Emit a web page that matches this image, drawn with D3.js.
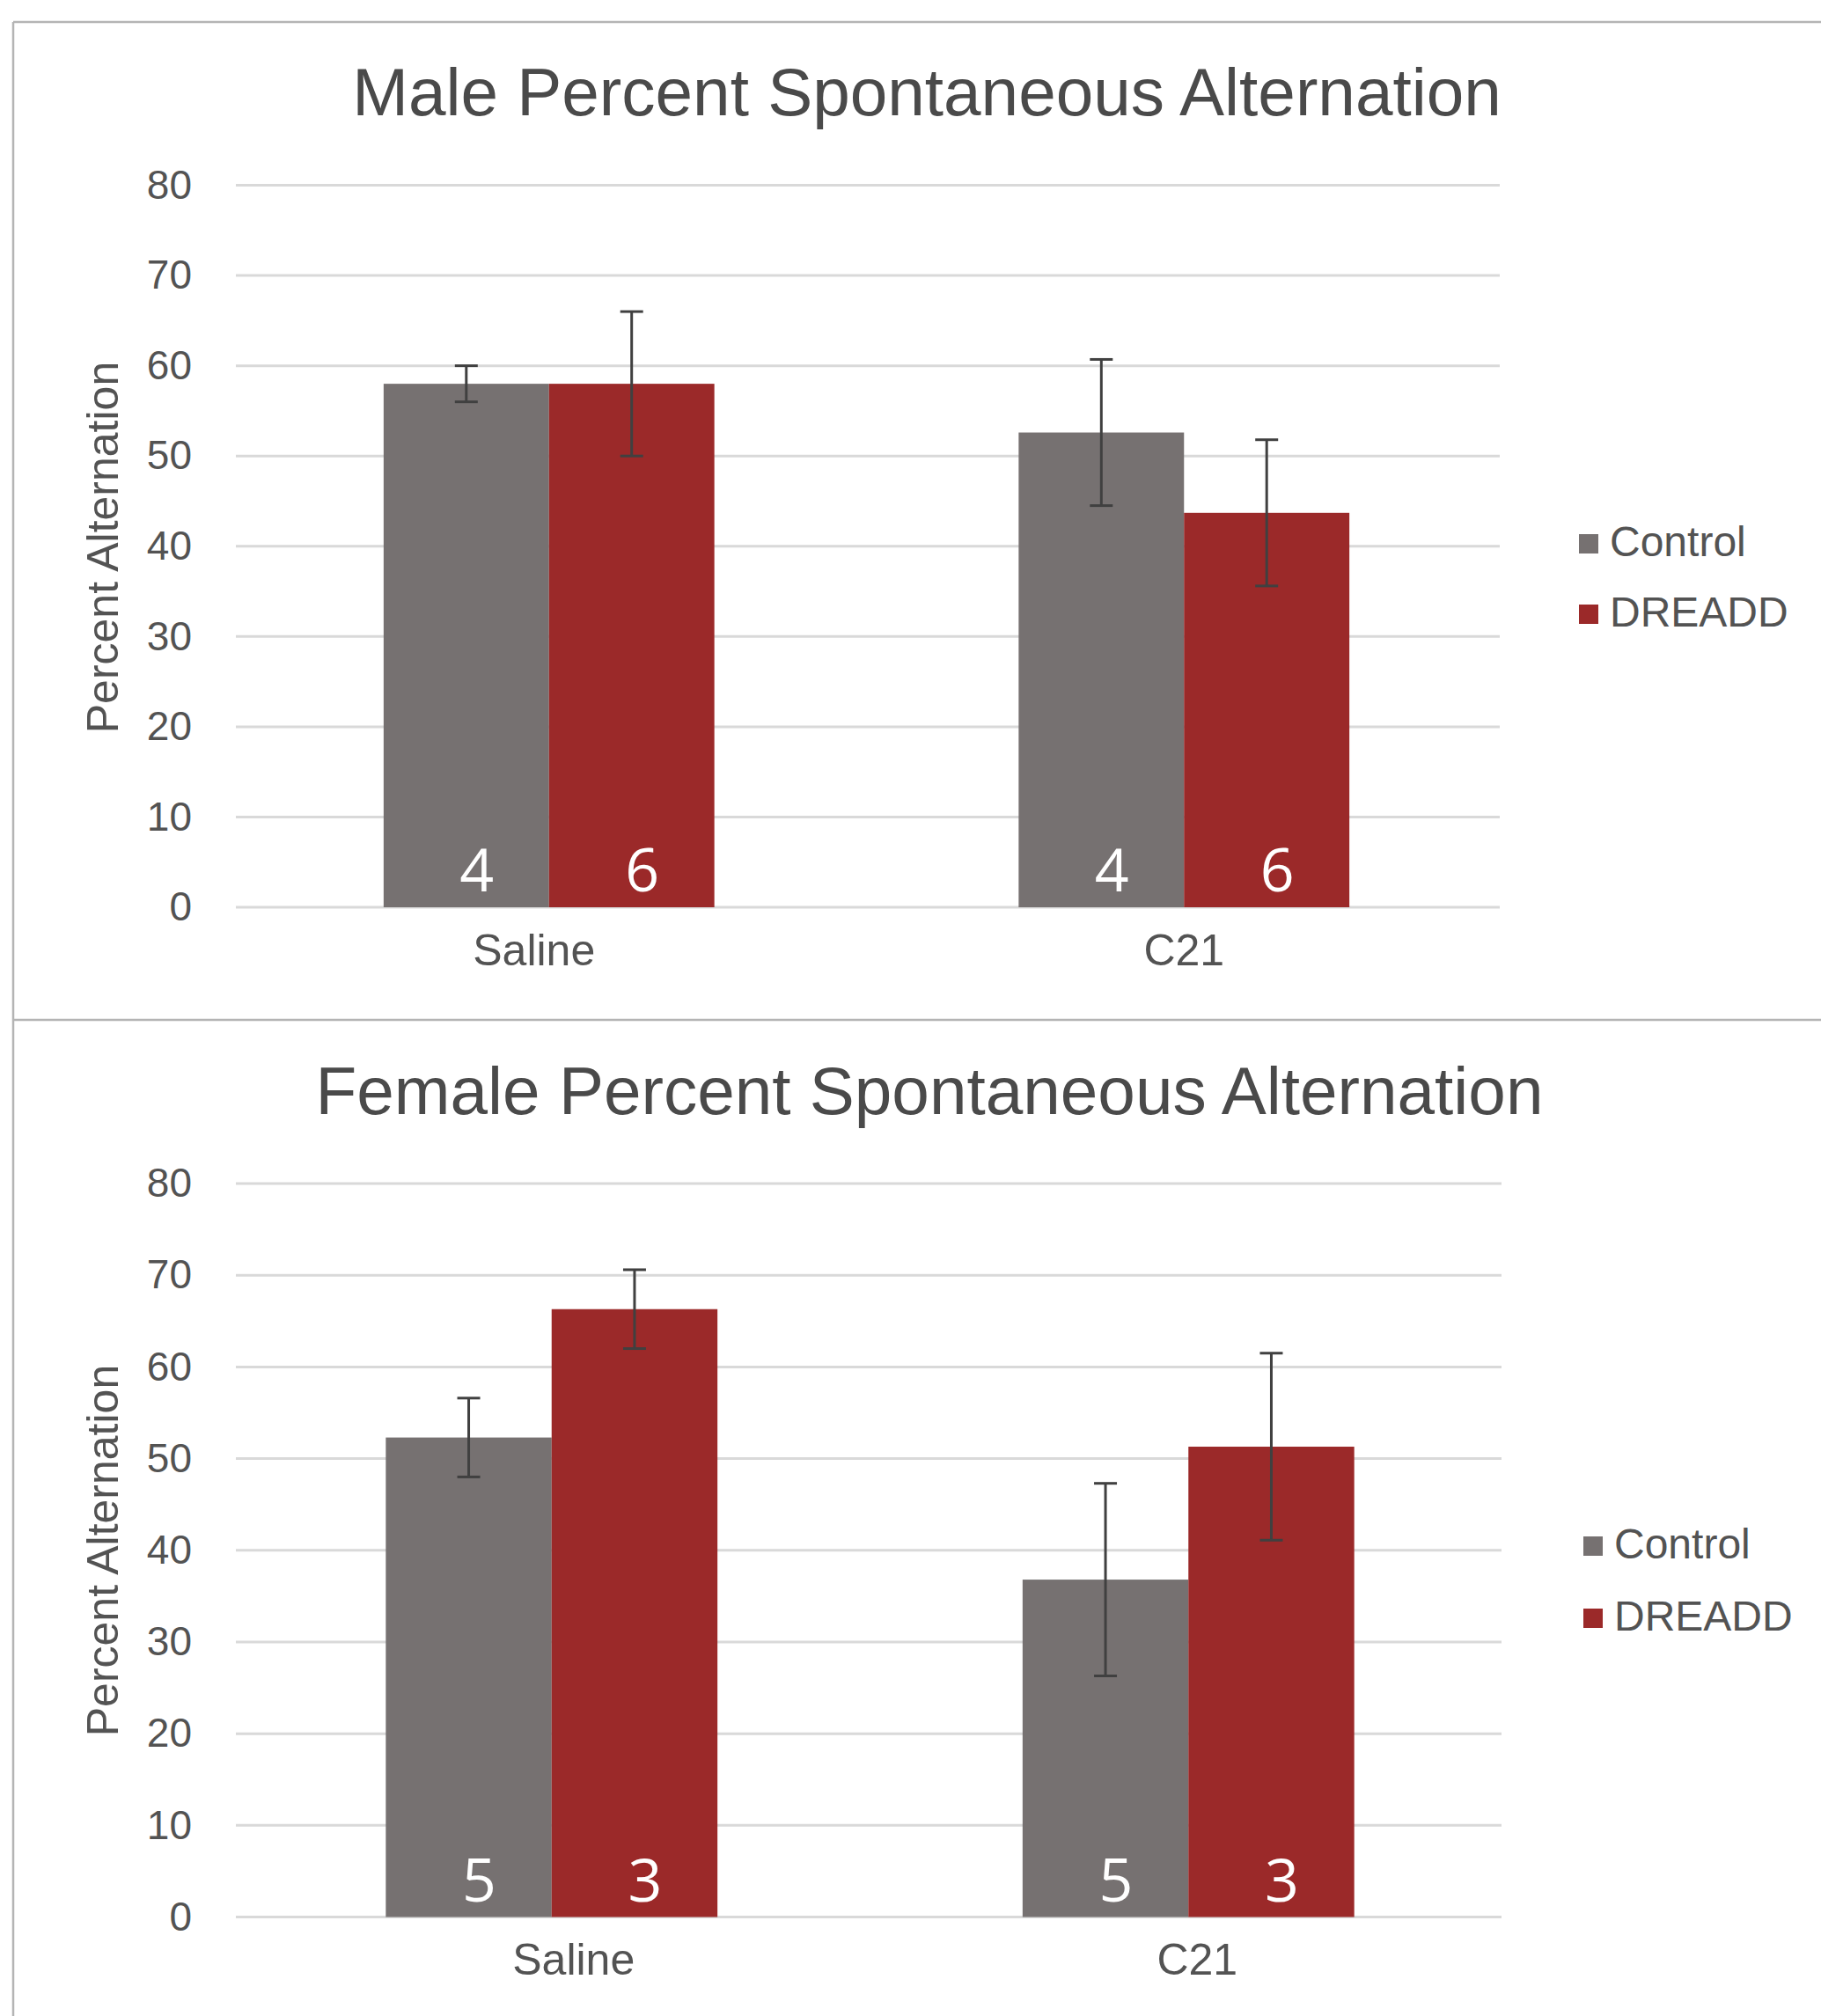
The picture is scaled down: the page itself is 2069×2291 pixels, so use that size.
<!DOCTYPE html>
<html>
<head>
<meta charset="utf-8">
<script src="https://cdn.jsdelivr.net/npm/d3@7"></script>
<style>
  html, body { margin: 0; padding: 0; background: #ffffff; }
  svg { display: block; }
  text { font-family: "Liberation Sans", Arial, sans-serif; fill: #595959; }
</style>
</head>
<body>
<script>
// ---------- DATA ----------
const categories = ["Saline", "C21"];
const seriesNames = ["Control", "DREADD"];
const yTicks = [0, 10, 20, 30, 40, 50, 60, 70, 80];

const maleTitle = "Male Percent Spontaneous Alternation";
const maleControl = [58.0, 52.6];
const maleDreadd = [58.0, 43.7];
const maleControlErr = [2.0, 8.1];
const maleDreaddErr = [8.0, 8.1];
const maleControlN = ["4", "4"];
const maleDreaddN = ["6", "6"];

const femaleTitle = "Female Percent Spontaneous Alternation";
const femaleControl = [52.3, 36.8];
const femaleDreadd = [66.3, 51.3];
const femaleControlErr = [4.3, 10.5];
const femaleDreaddErr = [4.3, 10.2];
const femaleControlN = ["5", "5"];
const femaleDreaddN = ["3", "3"];

const yLabel = "Percent Alternation";

// ---------- STYLE ----------
const colors = { Control: "#767171", DREADD: "#9b2929" };
const textColor = "#535353";
const W = 2069, H = 2291;

const svg = d3.select("body").append("svg")
  .attr("width", W).attr("height", H);

svg.append("rect").attr("x", 0).attr("y", 0).attr("width", W).attr("height", H).attr("fill", "#fff");

// panel frame lines
const frame = svg.append("g").attr("stroke", "#b4b4b4").attr("stroke-width", 2.5).attr("fill", "none");
frame.append("line").attr("x1", 15).attr("x2", W).attr("y1", 25).attr("y2", 25);
frame.append("line").attr("x1", 15).attr("x2", 15).attr("y1", 25).attr("y2", H);
frame.append("line").attr("x1", 15).attr("x2", W).attr("y1", 1159).attr("y2", 1159);

function drawPanel(cfg) {
  const g = svg.append("g");
  const y = d3.scaleLinear().domain([0, 80]).range([cfg.y0, cfg.y80]);
  const x0 = d3.scaleBand().domain(categories).range([cfg.xL, cfg.xR]).padding(0);
  const x1 = d3.scaleBand().domain(seriesNames).range([0, x0.bandwidth()]).paddingInner(0).paddingOuter(0.92);

  // gridlines
  g.append("g").selectAll("line").data(yTicks).join("line")
    .attr("x1", cfg.gridL).attr("x2", cfg.gridR)
    .attr("y1", d => y(d)).attr("y2", d => y(d))
    .attr("stroke", "#d9d9d9").attr("stroke-width", 3);

  // y axis
  const ya = g.append("g").attr("transform", `translate(${cfg.gridL - 38},0)`)
    .call(d3.axisLeft(y).tickValues(yTicks).tickSize(0).tickPadding(12));
  ya.select(".domain").remove();
  ya.selectAll("text").style("font-size", "46px").style("fill", textColor)
    .style("font-family", '"Liberation Sans", Arial, sans-serif');

  // x axis labels
  const xa = g.append("g").attr("transform", `translate(0,${cfg.y0})`)
    .call(d3.axisBottom(x0).tickSize(0).tickPadding(30));
  xa.select(".domain").remove();
  xa.selectAll("text").style("font-size", "50px").style("fill", textColor)
    .style("font-family", '"Liberation Sans", Arial, sans-serif')
    .attr("dy", "0.71em")
    .attr("dx", (d, i) => cfg.labelNudge[i]);

  const rows = categories.map((c, i) => ({
    cat: c,
    vals: [
      { s: "Control", v: cfg.control[i], e: cfg.controlErr[i], n: cfg.controlN[i] },
      { s: "DREADD", v: cfg.dreadd[i], e: cfg.dreaddErr[i], n: cfg.dreaddN[i] }
    ]
  }));

  const grp = g.append("g").selectAll("g").data(rows).join("g")
    .attr("transform", d => `translate(${x0(d.cat)},0)`);

  grp.selectAll("rect").data(d => d.vals).join("rect")
    .attr("x", d => x1(d.s)).attr("width", x1.bandwidth())
    .attr("y", d => y(d.v)).attr("height", d => y(0) - y(d.v))
    .attr("fill", d => colors[d.s]);

  // error bars
  const eb = grp.selectAll("g.err").data(d => d.vals).join("g").attr("class", "err")
    .attr("stroke", "#404040").attr("stroke-width", 3);
  eb.append("line")
    .attr("x1", d => x1(d.s) + x1.bandwidth() / 2).attr("x2", d => x1(d.s) + x1.bandwidth() / 2)
    .attr("y1", d => y(d.v - d.e)).attr("y2", d => y(d.v + d.e));
  eb.append("line")
    .attr("x1", d => x1(d.s) + x1.bandwidth() / 2 - 13).attr("x2", d => x1(d.s) + x1.bandwidth() / 2 + 13)
    .attr("y1", d => y(d.v + d.e)).attr("y2", d => y(d.v + d.e));
  eb.append("line")
    .attr("x1", d => x1(d.s) + x1.bandwidth() / 2 - 13).attr("x2", d => x1(d.s) + x1.bandwidth() / 2 + 13)
    .attr("y1", d => y(d.v - d.e)).attr("y2", d => y(d.v - d.e));

  // n labels
  grp.selectAll("text.n").data(d => d.vals).join("text").attr("class", "n")
    .attr("x", d => x1(d.s) + x1.bandwidth() / 2 + 12)
    .attr("y", y(0) - 18)
    .attr("text-anchor", "middle")
    .style("font-family", '"Open Sans", "Noto Sans", sans-serif')
    .style("font-size", "68px")
    .style("fill", "#ffffff")
    .text(d => d.n);

  // title
  g.append("text").attr("x", cfg.titleX).attr("y", cfg.titleY)
    .attr("text-anchor", "middle").style("font-size", "76.5px").style("fill", "#4a4a4a")
    .text(cfg.title);

  // y label
  g.append("text").attr("transform", `translate(${cfg.yLabX},${cfg.yLabY}) rotate(-90)`)
    .attr("text-anchor", "middle").style("font-size", "50px").style("fill", textColor)
    .text(yLabel);

  // legend
  const lg = g.append("g").selectAll("g").data(seriesNames).join("g")
    .attr("transform", (d, i) => `translate(${cfg.legX},${cfg.legY + i * cfg.legStep})`);
  lg.append("rect").attr("x", 0).attr("y", -25).attr("width", 22).attr("height", 22)
    .attr("fill", d => colors[d]);
  lg.append("text").attr("x", 35).attr("y", 0).style("font-size", "48px").style("fill", textColor)
    .text(d => d);
}

drawPanel({
  title: maleTitle, titleX: 1053, titleY: 131,
  y0: 1031, y80: 210.5, xL: 263, xR: 1706, gridL: 268, gridR: 1704,
  control: maleControl, dreadd: maleDreadd,
  controlErr: maleControlErr, dreaddErr: maleDreaddErr,
  controlN: maleControlN, dreaddN: maleDreaddN,
  labelNudge: [-17, 0],
  yLabX: 134, yLabY: 622,
  legX: 1794, legY: 632, legStep: 80
});

drawPanel({
  title: femaleTitle, titleX: 1056, titleY: 1266,
  y0: 2178.5, y80: 1345, xL: 265, xR: 1712, gridL: 268, gridR: 1706,
  control: femaleControl, dreadd: femaleDreadd,
  controlErr: femaleControlErr, dreaddErr: femaleDreaddErr,
  controlN: femaleControlN, dreaddN: femaleDreaddN,
  labelNudge: [25, 10],
  yLabX: 134, yLabY: 1762,
  legX: 1799, legY: 1771, legStep: 82
});
</script>
</body>
</html>
